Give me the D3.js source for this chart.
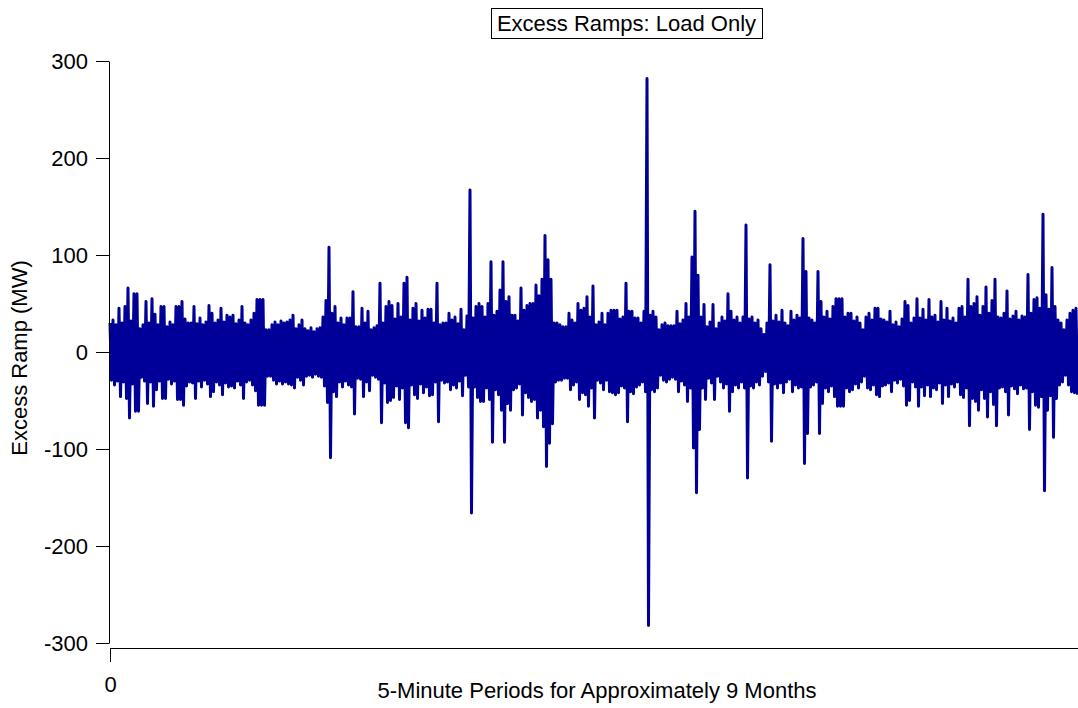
<!DOCTYPE html>
<html>
<head>
<meta charset="utf-8">
<script src="https://cdn.jsdelivr.net/npm/d3@7"></script>
<style>
    body { margin: 0; background: #ffffff; }
    svg { display: block; }
</style>
</head>
<body>
<svg id="drawing_region"></svg>
<script>
// excess ramp (MW): highest and lowest value in each small slice of the record
const upperValues = [
    30,33,28,45,30,47,66,32,60,60,24,28,52,30,55,39,28,47,47,26,
    31,28,47,47,52,34,30,30,47,29,35,28,31,48,40,30,33,45,31,38,
    36,38,29,33,47,30,28,33,40,54,54,54,23,23,28,31,28,32,30,31,
    33,38,24,28,33,24,22,25,21,24,25,36,53,108,40,47,30,35,28,35,
    35,62,26,26,45,30,42,23,25,27,71,30,47,52,48,34,50,36,71,77,
    33,45,50,32,43,35,44,44,30,71,28,30,30,40,33,36,29,44,23,37,
    167,35,47,50,47,36,50,93,38,42,64,93,52,57,38,38,32,66,43,48,
    50,50,69,58,75,120,95,75,30,30,28,26,26,40,33,30,50,43,45,57,
    36,68,28,31,40,28,40,43,43,43,34,36,71,42,42,35,35,30,42,282,
    38,42,36,23,28,30,27,27,27,42,29,33,50,36,98,145,79,36,49,26,
    31,49,24,30,36,32,60,42,33,36,30,36,131,34,36,30,33,24,18,30,
    90,32,38,31,43,30,27,42,33,38,35,117,83,35,33,30,83,52,36,42,
    34,47,55,55,55,36,40,40,32,36,30,23,36,40,33,45,45,34,33,31,
    42,28,31,26,34,52,48,30,35,55,35,44,33,54,36,38,31,52,33,45,
    32,35,30,45,47,36,75,47,50,57,38,47,67,40,53,75,36,35,40,63,
    34,37,42,33,37,36,80,40,54,56,45,142,59,44,87,47,33,30,23,33,
    40,43,45
];
const lowerValues = [
    -29,-34,-30,-46,-31,-48,-68,-33,-61,-61,-26,-30,-53,-31,-56,-39,-30,-48,-48,-28,
    -33,-30,-49,-49,-55,-35,-31,-32,-48,-30,-36,-29,-33,-46,-41,-31,-34,-44,-32,-36,
    -35,-37,-30,-34,-48,-31,-29,-34,-40,-55,-55,-55,-25,-25,-29,-33,-30,-33,-31,-33,
    -34,-37,-26,-29,-34,-25,-24,-26,-23,-25,-26,-35,-52,-109,-41,-46,-31,-36,-30,-34,
    -36,-64,-27,-28,-46,-31,-40,-24,-26,-28,-73,-32,-52,-50,-47,-35,-49,-37,-73,-78,
    -34,-44,-48,-33,-42,-36,-45,-44,-31,-72,-29,-32,-31,-39,-34,-37,-30,-45,-24,-36,
    -166,-36,-47,-51,-51,-37,-49,-93,-39,-44,-60,-93,-53,-60,-39,-37,-33,-65,-42,-47,
    -51,-49,-68,-60,-77,-118,-94,-74,-31,-29,-29,-27,-27,-39,-34,-31,-49,-42,-44,-56,
    -37,-68,-29,-32,-39,-29,-41,-42,-44,-42,-35,-37,-72,-41,-43,-36,-34,-31,-41,-282,
    -39,-41,-37,-24,-29,-31,-28,-26,-28,-41,-30,-34,-51,-37,-99,-145,-80,-37,-49,-27,
    -32,-49,-25,-31,-37,-33,-61,-41,-34,-37,-31,-37,-130,-35,-37,-31,-34,-25,-20,-31,
    -92,-33,-37,-32,-42,-31,-28,-41,-34,-37,-36,-115,-84,-36,-34,-31,-84,-53,-37,-41,
    -35,-46,-56,-56,-56,-37,-41,-39,-33,-37,-31,-25,-37,-39,-34,-44,-46,-35,-34,-32,
    -41,-29,-32,-28,-35,-55,-50,-31,-36,-56,-36,-45,-34,-46,-37,-39,-32,-53,-34,-46,
    -33,-36,-31,-44,-47,-37,-76,-48,-51,-60,-39,-48,-67,-41,-54,-76,-37,-36,-41,-65,
    -35,-38,-43,-34,-38,-37,-80,-41,-55,-57,-46,-143,-60,-45,-88,-48,-34,-31,-24,-34,
    -41,-42,-44
];
const yTicks = [-300, -200, -100, 0, 100, 200, 300];
const xTicks = [0];

const titleText = 'Excess Ramps: Load Only';
const xLabel = '5-Minute Periods for Approximately 9 Months';
const yLabel = 'Excess Ramp (MW)';

class RampChart {

    constructor( config, upper, lower ) {
        this.config = {
            parent: config.parent,
            width: config.width || 1078,
            height: config.height || 708,
            left: config.left || 110,
            right: config.right || 1079,
            top: config.top || 61,
            bottom: config.bottom || 643,
            xAxisY: config.xAxisY || 648,
            fontSize: config.fontSize || '22px',
        }
        this.upper = upper;
        this.lower = lower;
        this.init();
    }

    init() {
        let self = this;

        self.svg = d3.select( self.config.parent )
            .attr('width', self.config.width)
            .attr('height', self.config.height)
            .style('font-family', '"Liberation Sans", Arial, sans-serif');

        self.xscale = d3.scaleLinear()
            .domain([0, self.upper.length])
            .range([self.config.left, self.config.right]);

        self.yscale = d3.scaleLinear()
            .domain([-300, 300])
            .range([self.config.bottom, self.config.top]);

        self.xaxis = d3.axisBottom( self.xscale )
            .tickValues(xTicks)
            .tickFormat(d => String(d))
            .tickSize(14)
            .tickSizeOuter(0)
            .tickPadding(14);

        self.yaxis = d3.axisLeft( self.yscale )
            .tickValues(yTicks)
            .tickFormat(d => String(d))
            .tickSize(13)
            .tickSizeOuter(0)
            .tickPadding(8);

        self.line = d3.line()
            .x(d => self.xscale(d[0]))
            .y(d => self.yscale(d[1]));
    }

    update() {
        let self = this;

        // each slice goes up to its high and down to its low
        self.points = [];
        self.upper.forEach( (u, i) => {
            self.points.push([i, u]);
            self.points.push([i + 0.5, self.lower[i]]);
        });

        self.render();
    }

    render() {
        let self = this;

        self.svg.append('path')
            .datum(self.points)
            .attr('d', self.line)
            .attr('fill', 'none')
            .attr('stroke', '#000099')
            .attr('stroke-width', 3)
            .attr('stroke-linejoin', 'round');

        const yg = self.svg.append('g')
            .attr('transform', `translate(${self.config.left - 1}, 0)`)
            .call(self.yaxis);

        const xg = self.svg.append('g')
            .attr('transform', `translate(0, ${self.config.xAxisY})`)
            .call(self.xaxis);

        [xg, yg].forEach( g => {
            g.attr('font-size', null).attr('font-family', null);
            g.selectAll('path, line').attr('stroke', 'black');
            g.selectAll('text')
                .attr('fill', 'black')
                .style('font-size', self.config.fontSize);
        });

        self.svg.append('text')
            .attr('x', 597)
            .attr('y', 698)
            .attr('text-anchor', 'middle')
            .style('font-size', self.config.fontSize)
            .text(xLabel);

        self.svg.append('text')
            .attr('transform', 'translate(27, 358) rotate(-90)')
            .attr('text-anchor', 'middle')
            .style('font-size', self.config.fontSize)
            .text(yLabel);

        const titleBox = self.svg.append('rect');

        const title = self.svg.append('text')
            .attr('x', 626.5)
            .attr('y', 31)
            .attr('text-anchor', 'middle')
            .style('font-size', self.config.fontSize)
            .text(titleText);

        const box = title.node().getBBox();
        titleBox
            .attr('x', Math.round(box.x - 6) + 0.5)
            .attr('y', 8.5)
            .attr('width', Math.round(box.width + 12))
            .attr('height', 30)
            .attr('fill', 'white')
            .attr('stroke', 'black')
            .attr('stroke-width', 1);
    }
}

const chart = new RampChart( { parent: '#drawing_region' }, upperValues, lowerValues );
chart.update();
</script>
</body>
</html>
